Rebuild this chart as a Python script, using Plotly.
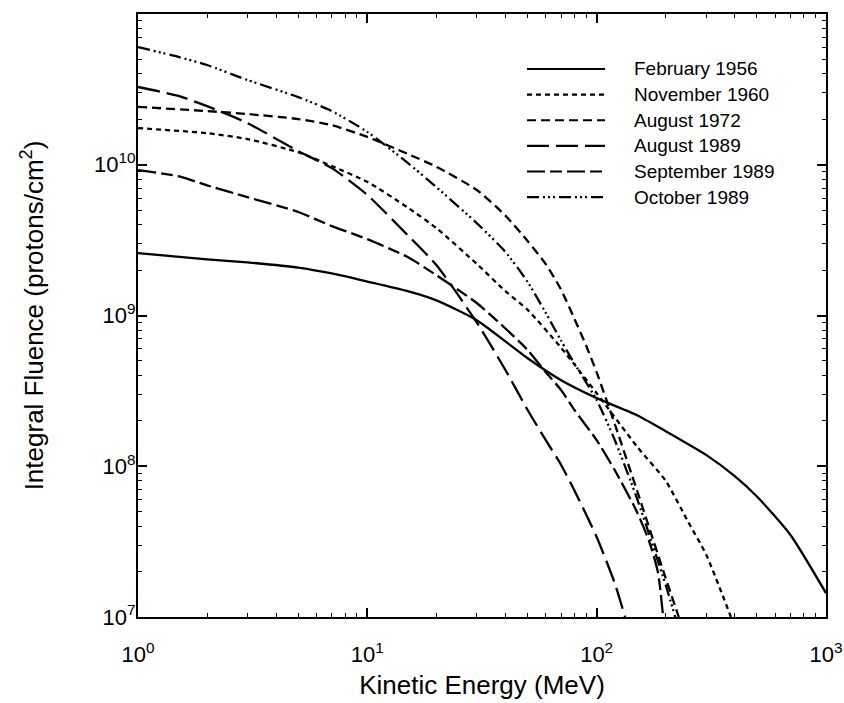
import plotly.graph_objects as go

# Integral proton fluence spectra of large solar particle events
feb1956_energy = [1, 2, 3, 5, 7, 10, 15, 20, 30, 50, 70, 100, 150, 200, 300, 400, 500, 700, 1000]
feb1956_fluence = [2.59e9, 2.36e9, 2.25e9, 2.08e9, 1.9e9, 1.68e9, 1.45e9, 1.26e9, 9.3e8,
                   5.2e8, 3.72e8, 2.83e8, 2.18e8, 1.71e8, 1.19e8, 8.6e7, 6.3e7, 3.5e7, 1.44e7]

nov1960_energy = [1, 2, 3, 5, 7, 10, 15, 20, 30, 40, 50, 70, 100, 150, 200, 250, 300, 385]
nov1960_fluence = [1.75e10, 1.62e10, 1.48e10, 1.21e10, 9.8e9, 7.7e9, 5.2e9, 3.8e9, 2.2e9,
                   1.45e9, 1.09e9, 6.1e8, 3.05e8, 1.35e8, 8.0e7, 4.3e7, 2.6e7, 1.0e7]

aug1972_energy = [1, 2, 3, 5, 7, 10, 15, 20, 30, 40, 50, 60, 70, 80, 90, 100, 120, 150, 200, 228]
aug1972_fluence = [2.42e10, 2.27e10, 2.17e10, 2.01e10, 1.83e10, 1.53e10, 1.18e10, 9.7e9, 6.8e9,
                   4.6e9, 3.12e9, 2.19e9, 1.48e9, 9.5e8, 6.3e8, 4.2e8, 1.9e8, 6.9e7, 1.81e7, 1.0e7]

aug1989_energy = [1, 1.5, 2, 3, 5, 7, 10, 15, 20, 30, 40, 50, 60, 70, 80, 100, 120, 133]
aug1989_fluence = [3.28e10, 2.86e10, 2.45e10, 1.89e10, 1.23e10, 9.5e9, 6.3e9, 3.41e9, 2.16e9,
                   9.0e8, 4.35e8, 2.36e8, 1.49e8, 1.02e8, 6.9e7, 3.39e7, 1.67e7, 1.0e7]

sep1989_energy = [1, 1.5, 2, 3, 5, 7, 10, 15, 20, 30, 40, 50, 60, 70, 80, 100, 120, 150, 170, 185, 195]
sep1989_fluence = [9.2e9, 8.4e9, 7.3e9, 6.1e9, 4.86e9, 3.92e9, 3.21e9, 2.44e9, 1.85e9, 1.21e9,
                   8.2e8, 5.9e8, 4.2e8, 3.2e8, 2.36e8, 1.49e8, 9.4e7, 4.96e7, 3.13e7, 1.98e7, 1.0e7]

oct1989_energy = [1, 1.5, 2, 3, 5, 7, 10, 15, 20, 30, 40, 50, 60, 70, 80, 100, 120, 150, 200, 220]
oct1989_fluence = [6.04e10, 5.19e10, 4.59e10, 3.65e10, 2.81e10, 2.27e10, 1.65e10, 1.03e10, 7.1e9,
                   4.1e9, 2.64e9, 1.67e9, 1.04e9, 6.8e8, 4.8e8, 2.75e8, 1.49e8, 6.1e7, 1.63e7, 1.0e7]

event_names = ["February 1956", "November 1960", "August 1972",
               "August 1989", "September 1989", "October 1989"]

x_tick_values = [1, 10, 100, 1000]
x_tick_labels = ["10<sup>0</sup>", "10<sup>1</sup>", "10<sup>2</sup>", "10<sup>3</sup>"]
y_tick_values = [1e7, 1e8, 1e9, 1e10, 1e11]
y_tick_labels = ["10<sup>7</sup>", "10<sup>8</sup>", "10<sup>9</sup>",
                 "10<sup>10</sup>", "10<sup>11</sup>"]

series = [
    (feb1956_energy, feb1956_fluence),
    (nov1960_energy, nov1960_fluence),
    (aug1972_energy, aug1972_fluence),
    (aug1989_energy, aug1989_fluence),
    (sep1989_energy, sep1989_fluence),
    (oct1989_energy, oct1989_fluence),
]

# line style for each event (same order as event_names)
dash_styles = [
    "solid",
    "5px,4px",
    "9px,5px",
    "22px,7px",
    "18px,5px,12px,5px",
    "12px,4px,2px,3px,2px,3px,2px,4px",
]

FONT = "Liberation Sans, Arial, Helvetica, sans-serif"

fig = go.Figure()
for name, (energy, fluence), dash in zip(event_names, series, dash_styles):
    fig.add_trace(go.Scatter(
        x=energy, y=fluence, name=name, mode="lines",
        line=dict(color="black", width=2.3, dash=dash, shape="spline", smoothing=0.6),
        showlegend=False,
    ))

# key in the upper right of the plot area
key_x0, key_x1, key_text_x = 0.5654, 0.6788, 0.718
key_top, key_step = 0.9088, 0.0425
for i, (name, dash) in enumerate(zip(event_names, dash_styles)):
    yk = key_top - i * key_step
    fig.add_shape(type="line", xref="paper", yref="paper",
                  x0=key_x0, x1=key_x1, y0=yk, y1=yk,
                  line=dict(color="black", width=2.2, dash=dash))
    fig.add_annotation(xref="paper", yref="paper", x=key_text_x, y=yk,
                       text=name, showarrow=False, xanchor="left", yanchor="middle",
                       font=dict(family=FONT, size=19, color="black"))

# minor ticks at 2..9 within every decade
x_minor = [m * 10 ** d for d in range(0, 3) for m in range(2, 10)]
y_minor = [m * 10 ** d for d in range(7, 11) for m in range(2, 10)]

axis_common = dict(
    type="log", showgrid=False, zeroline=False, automargin=False,
    showline=True, linecolor="black", linewidth=2, mirror="allticks",
    ticks="inside", ticklen=9, tickwidth=1.5, tickcolor="black",
    tickfont=dict(family=FONT, size=22, color="black"),
    tickmode="array",
)

fig.update_xaxes(
    **axis_common,
    range=[0, 3],
    tickvals=x_tick_values, ticktext=x_tick_labels,
    minor=dict(tickmode="array", tickvals=x_minor, ticks="inside",
               ticklen=4, tickwidth=1, tickcolor="black"),
    ticklabelstandoff=17,
    title=dict(text="Kinetic Energy (MeV)", standoff=9,
               font=dict(family=FONT, size=26, color="black")),
)
fig.update_yaxes(
    **axis_common,
    range=[7, 11],
    tickvals=y_tick_values, ticktext=y_tick_labels,
    minor=dict(tickmode="array", tickvals=y_minor, ticks="inside",
               ticklen=4, tickwidth=1, tickcolor="black"),
    ticklabelstandoff=-4,
    title=dict(text="Integral Fluence (protons/cm<sup>2</sup>)", standoff=43,
               font=dict(family=FONT, size=26, color="black")),
)

fig.update_layout(
    width=844, height=703,
    margin=dict(l=138, r=18, t=14, b=86),
    paper_bgcolor="white", plot_bgcolor="white",
    font=dict(family=FONT, color="black"),
    showlegend=False,
)

fig.write_html("out.html")
